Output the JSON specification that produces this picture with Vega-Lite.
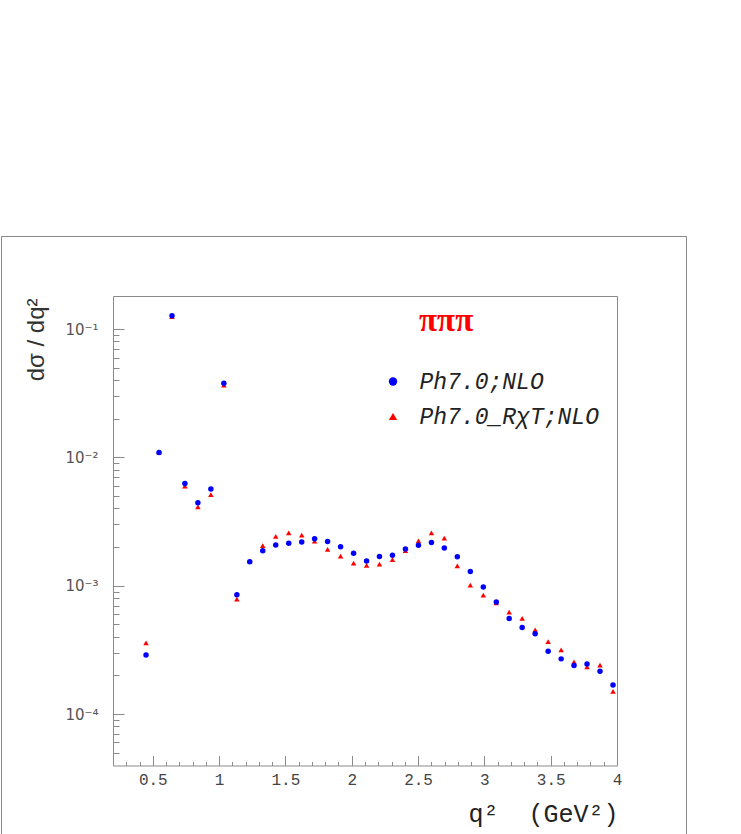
{
  "$schema": "https://vega.github.io/schema/vega-lite/v6.json",
  "width": 685,
  "height": 598,
  "autosize": {"type": "none"},
  "padding": {"left": 1, "top": 236, "right": 55, "bottom": 0},
  "background": "white",
  "title": {
    "text": "πππ",
    "anchor": "start",
    "frame": "group",
    "orient": "top",
    "offset": 0,
    "dx": 418,
    "dy": 128,
    "baseline": "alphabetic",
    "color": "#ff0000",
    "font": "Liberation Serif",
    "fontSize": 33,
    "fontWeight": "bold"
  },
  "config": {
    "view": {"stroke": "#8a8a8a", "strokeWidth": 1},
    "axis": {"domainColor": "#8a8a8a", "domainWidth": 1, "tickColor": "#8a8a8a", "tickWidth": 1, "grid": false}
  },
  "data": {
    "values": [
      {"q2": 0.449, "v": 0.000359, "s": "Ph7.0_RχT;NLO"},
      {"q2": 0.547, "v": 0.0110, "s": "Ph7.0_RχT;NLO"},
      {"q2": 0.645, "v": 0.125, "s": "Ph7.0_RχT;NLO"},
      {"q2": 0.742, "v": 0.00597, "s": "Ph7.0_RχT;NLO"},
      {"q2": 0.840, "v": 0.00412, "s": "Ph7.0_RχT;NLO"},
      {"q2": 0.938, "v": 0.00512, "s": "Ph7.0_RχT;NLO"},
      {"q2": 1.036, "v": 0.0366, "s": "Ph7.0_RχT;NLO"},
      {"q2": 1.134, "v": 0.000786, "s": "Ph7.0_RχT;NLO"},
      {"q2": 1.231, "v": 0.00156, "s": "Ph7.0_RχT;NLO"},
      {"q2": 1.329, "v": 0.00205, "s": "Ph7.0_RχT;NLO"},
      {"q2": 1.427, "v": 0.00242, "s": "Ph7.0_RχT;NLO"},
      {"q2": 1.525, "v": 0.00258, "s": "Ph7.0_RχT;NLO"},
      {"q2": 1.623, "v": 0.00248, "s": "Ph7.0_RχT;NLO"},
      {"q2": 1.720, "v": 0.00223, "s": "Ph7.0_RχT;NLO"},
      {"q2": 1.818, "v": 0.00192, "s": "Ph7.0_RχT;NLO"},
      {"q2": 1.916, "v": 0.00170, "s": "Ph7.0_RχT;NLO"},
      {"q2": 2.014, "v": 0.00150, "s": "Ph7.0_RχT;NLO"},
      {"q2": 2.112, "v": 0.00144, "s": "Ph7.0_RχT;NLO"},
      {"q2": 2.209, "v": 0.00147, "s": "Ph7.0_RχT;NLO"},
      {"q2": 2.307, "v": 0.00160, "s": "Ph7.0_RχT;NLO"},
      {"q2": 2.405, "v": 0.00188, "s": "Ph7.0_RχT;NLO"},
      {"q2": 2.503, "v": 0.00224, "s": "Ph7.0_RχT;NLO"},
      {"q2": 2.601, "v": 0.00258, "s": "Ph7.0_RχT;NLO"},
      {"q2": 2.698, "v": 0.00235, "s": "Ph7.0_RχT;NLO"},
      {"q2": 2.796, "v": 0.00143, "s": "Ph7.0_RχT;NLO"},
      {"q2": 2.894, "v": 0.00101, "s": "Ph7.0_RχT;NLO"},
      {"q2": 2.992, "v": 0.000845, "s": "Ph7.0_RχT;NLO"},
      {"q2": 3.090, "v": 0.000736, "s": "Ph7.0_RχT;NLO"},
      {"q2": 3.187, "v": 0.000622, "s": "Ph7.0_RχT;NLO"},
      {"q2": 3.285, "v": 0.000556, "s": "Ph7.0_RχT;NLO"},
      {"q2": 3.383, "v": 0.000453, "s": "Ph7.0_RχT;NLO"},
      {"q2": 3.481, "v": 0.000366, "s": "Ph7.0_RχT;NLO"},
      {"q2": 3.579, "v": 0.000316, "s": "Ph7.0_RχT;NLO"},
      {"q2": 3.676, "v": 0.000255, "s": "Ph7.0_RχT;NLO"},
      {"q2": 3.774, "v": 0.000233, "s": "Ph7.0_RχT;NLO"},
      {"q2": 3.872, "v": 0.000240, "s": "Ph7.0_RχT;NLO"},
      {"q2": 3.970, "v": 0.000150, "s": "Ph7.0_RχT;NLO"},
      {"q2": 0.449, "v": 0.000288, "s": "Ph7.0;NLO"},
      {"q2": 0.547, "v": 0.0109, "s": "Ph7.0;NLO"},
      {"q2": 0.645, "v": 0.127, "s": "Ph7.0;NLO"},
      {"q2": 0.742, "v": 0.00627, "s": "Ph7.0;NLO"},
      {"q2": 0.840, "v": 0.00443, "s": "Ph7.0;NLO"},
      {"q2": 0.938, "v": 0.00566, "s": "Ph7.0;NLO"},
      {"q2": 1.036, "v": 0.0378, "s": "Ph7.0;NLO"},
      {"q2": 1.134, "v": 0.000849, "s": "Ph7.0;NLO"},
      {"q2": 1.231, "v": 0.001535, "s": "Ph7.0;NLO"},
      {"q2": 1.329, "v": 0.00187, "s": "Ph7.0;NLO"},
      {"q2": 1.427, "v": 0.00208, "s": "Ph7.0;NLO"},
      {"q2": 1.525, "v": 0.00214, "s": "Ph7.0;NLO"},
      {"q2": 1.623, "v": 0.00219, "s": "Ph7.0;NLO"},
      {"q2": 1.720, "v": 0.00232, "s": "Ph7.0;NLO"},
      {"q2": 1.818, "v": 0.00221, "s": "Ph7.0;NLO"},
      {"q2": 1.916, "v": 0.00201, "s": "Ph7.0;NLO"},
      {"q2": 2.014, "v": 0.00179, "s": "Ph7.0;NLO"},
      {"q2": 2.112, "v": 0.00156, "s": "Ph7.0;NLO"},
      {"q2": 2.209, "v": 0.00169, "s": "Ph7.0;NLO"},
      {"q2": 2.307, "v": 0.00173, "s": "Ph7.0;NLO"},
      {"q2": 2.405, "v": 0.00193, "s": "Ph7.0;NLO"},
      {"q2": 2.503, "v": 0.00207, "s": "Ph7.0;NLO"},
      {"q2": 2.601, "v": 0.00217, "s": "Ph7.0;NLO"},
      {"q2": 2.698, "v": 0.00197, "s": "Ph7.0;NLO"},
      {"q2": 2.796, "v": 0.00168, "s": "Ph7.0;NLO"},
      {"q2": 2.894, "v": 0.00129, "s": "Ph7.0;NLO"},
      {"q2": 2.992, "v": 0.000975, "s": "Ph7.0;NLO"},
      {"q2": 3.090, "v": 0.000745, "s": "Ph7.0;NLO"},
      {"q2": 3.187, "v": 0.000556, "s": "Ph7.0;NLO"},
      {"q2": 3.285, "v": 0.000473, "s": "Ph7.0;NLO"},
      {"q2": 3.383, "v": 0.000422, "s": "Ph7.0;NLO"},
      {"q2": 3.481, "v": 0.000308, "s": "Ph7.0;NLO"},
      {"q2": 3.579, "v": 0.000269, "s": "Ph7.0;NLO"},
      {"q2": 3.676, "v": 0.000239, "s": "Ph7.0;NLO"},
      {"q2": 3.774, "v": 0.000245, "s": "Ph7.0;NLO"},
      {"q2": 3.872, "v": 0.000215, "s": "Ph7.0;NLO"},
      {"q2": 3.970, "v": 0.000168, "s": "Ph7.0;NLO"}
    ]
  },
  "resolve": {"axis": {"x": "independent", "y": "independent"}},
  "layer": [
    {
      "mark": {"type": "point", "opacity": 0},
      "encoding": {
        "x": {
          "field": "q2", "type": "quantitative",
          "scale": {"domain": [0.2, 4.0], "range": [112, 616], "nice": false, "zero": false},
          "axis": {
            "orient": "top", "offset": -529.5, "labels": false, "domain": false, "ticks": true, "title": null,
            "values": [0.2, 0.3, 0.4, 0.5, 0.6, 0.7, 0.8, 0.9, 1.0, 1.1, 1.2, 1.3, 1.4, 1.5, 1.6, 1.7, 1.8, 1.9, 2.0, 2.1, 2.2, 2.3, 2.4, 2.5, 2.6, 2.7, 2.8, 2.9, 3.0, 3.1, 3.2, 3.3, 3.4, 3.5, 3.6, 3.7, 3.8, 3.9, 4.0],
            "tickSize": {"condition": {"test": "abs(datum.value*2 - round(datum.value*2)) < 0.001", "value": 10}, "value": 4}
          }
        },
        "y": {
          "field": "v", "type": "quantitative",
          "scale": {"type": "log", "domain": [0.0000397, 0.181], "range": [529.5, 60], "nice": false},
          "axis": {
            "orient": "right", "offset": -573, "labels": false, "domain": false, "ticks": true, "title": null,
            "values": [0.00005, 0.00006, 0.00007, 0.00008, 0.00009, 0.0001, 0.0002, 0.0003, 0.0004, 0.0005, 0.0006, 0.0007, 0.0008, 0.0009, 0.001, 0.002, 0.003, 0.004, 0.005, 0.006, 0.007, 0.008, 0.009, 0.01, 0.02, 0.03, 0.04, 0.05, 0.06, 0.07, 0.08, 0.09, 0.1],
            "tickSize": {"condition": {"test": "abs(datum.value-0.1)<1e-9 || abs(datum.value-0.01)<1e-10 || abs(datum.value-0.001)<1e-11 || abs(datum.value-0.0001)<1e-12", "value": 11}, "value": 6}
          }
        }
      }
    },
    {
      "mark": {"type": "point", "opacity": 0},
      "encoding": {
        "x": {
          "field": "q2", "type": "quantitative",
          "scale": {"domain": [0.2, 4.0], "range": [112, 616], "nice": false, "zero": false},
          "axis": {"orient": "top", "offset": -60, "labels": false, "ticks": false, "domain": true, "title": null, "values": [1]}
        },
        "y": {
          "field": "v", "type": "quantitative",
          "scale": {"type": "log", "domain": [0.0000397, 0.181], "range": [529.5, 60], "nice": false},
          "axis": {"orient": "right", "offset": -69, "labels": false, "ticks": false, "domain": true, "title": null, "values": [0.001]}
        }
      }
    },
    {
      "mark": {"type": "point", "filled": true, "opacity": 1, "strokeWidth": 0, "size": 30},
      "encoding": {
        "x": {
          "field": "q2", "type": "quantitative",
          "scale": {"domain": [0.2, 4.0], "range": [112, 616], "nice": false, "zero": false},
          "axis": {
            "orient": "bottom", "offset": -68.5, "ticks": false, "domain": true,
            "values": [0.5, 1.0, 1.5, 2.0, 2.5, 3.0, 3.5, 4.0],
            "labelExpr": "format(datum.value, '~g')",
            "labelFont": "Liberation Mono",
            "labelFontSize": 16,
            "labelColor": "#444444",
            "labelBaseline": "alphabetic",
            "labelPadding": 19,
            "labelFlush": false,
            "labelOverlap": false,
            "title": "q²\u00a0\u00a0(GeV²)",
            "titleFont": "Liberation Mono",
            "titleFontSize": 25,
            "titleFontWeight": "normal",
            "titleColor": "#222222",
            "titleAnchor": "end",
            "titleAlign": "right",
            "titleX": 617,
            "titleY": 56,
            "titleBaseline": "alphabetic"
          }
        },
        "y": {
          "field": "v", "type": "quantitative",
          "scale": {"type": "log", "domain": [0.0000397, 0.181], "range": [529.5, 60], "nice": false},
          "axis": {
            "orient": "left", "offset": -112, "ticks": false, "domain": true,
            "values": [0.0001, 0.001, 0.01, 0.1],
            "labelExpr": "abs(datum.value-0.1)<1e-9 ? '10⁻¹' : abs(datum.value-0.01)<1e-10 ? '10⁻²' : abs(datum.value-0.001)<1e-11 ? '10⁻³' : '10⁻⁴'",
            "labelFont": "DejaVu Sans",
            "labelFontSize": 15,
            "labelColor": "#555555",
            "labelBaseline": "middle",
            "labelPadding": 15,
            "labelOverlap": false,
            "labelFlush": false,
            "title": "dσ / dq²",
            "titleFont": "Liberation Sans",
            "titleFontSize": 24,
            "titleFontWeight": "normal",
            "titleColor": "#333333",
            "titleAngle": 270,
            "titleAlign": "right",
            "titleBaseline": "middle",
            "titleX": -77,
            "titleY": 62
          }
        },
        "color": {
          "field": "s", "type": "nominal",
          "scale": {"domain": ["Ph7.0;NLO", "Ph7.0_RχT;NLO"], "range": ["#0000ff", "#ff0000"]},
          "legend": {
            "orient": "none",
            "legendX": 380.5,
            "legendY": 134,
            "title": null,
            "padding": 0,
            "symbolSize": 70,
            "symbolStrokeWidth": 0,
            "labelFont": "Liberation Mono",
            "labelFontStyle": "italic",
            "labelFontSize": 23,
            "labelColor": "#222222",
            "labelOffset": 15,
            "rowPadding": 11,
            "labelLimit": 400
          }
        },
        "shape": {
          "field": "s", "type": "nominal",
          "scale": {"domain": ["Ph7.0;NLO", "Ph7.0_RχT;NLO"], "range": ["circle", "triangle-up"]}
        }
      }
    }
  ]
}
